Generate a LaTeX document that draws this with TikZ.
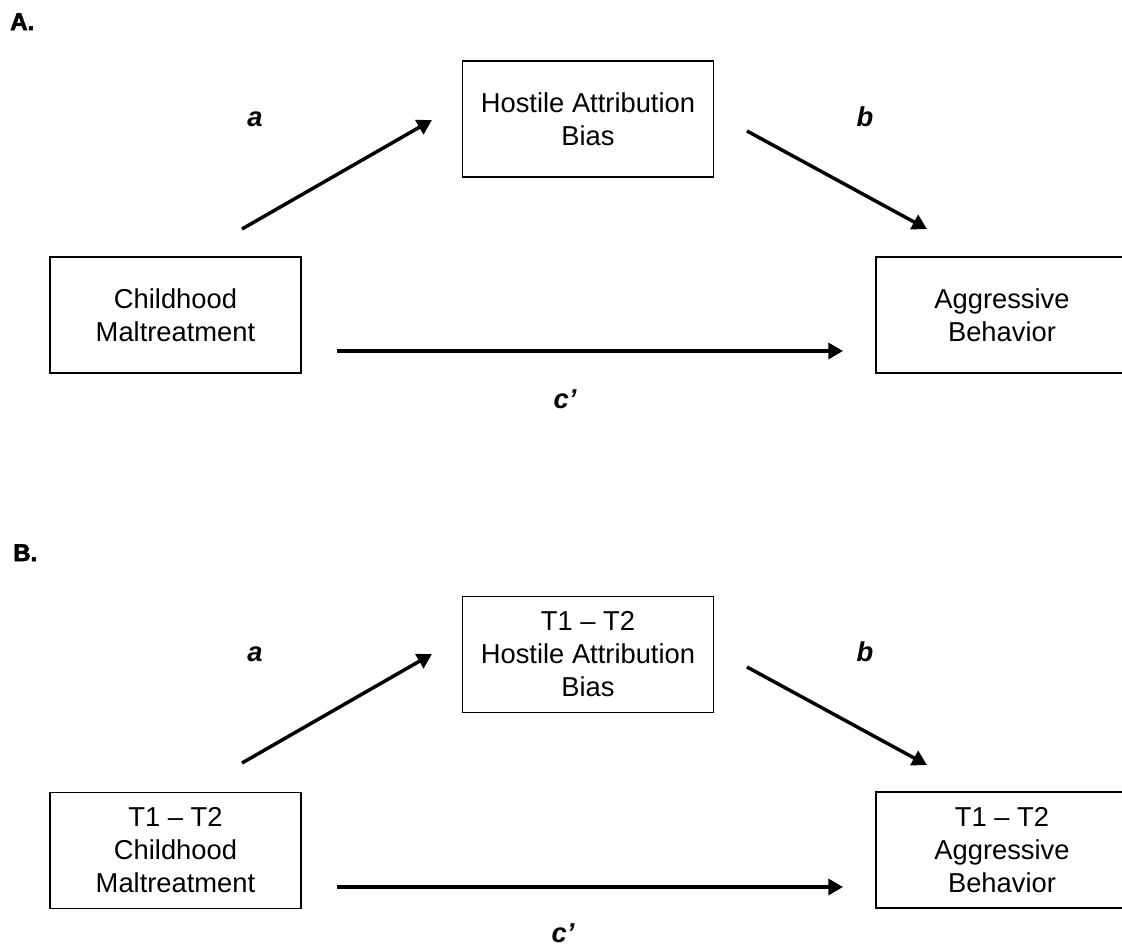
\documentclass[tikz,border=0pt]{standalone}
\usepackage{fontspec}
\setmainfont{Liberation Sans}
\newfontfamily\panelfont{Liberation Sans}[BoldFeatures={FakeBold=2.5}]
\usetikzlibrary{arrows.meta}
\begin{document}
\begin{tikzpicture}[x=0.75pt,y=-0.75pt,
  varbox/.style={draw=black, line width=1.2pt, rectangle, align=center, inner sep=0pt,
    minimum height=87pt, font=\fontsize{20.5pt}{24.75pt}\selectfont},
  pathlabel/.style={anchor=base, inner sep=0pt, font=\fontsize{20.5pt}{24pt}\selectfont\bfseries\itshape},
  panel/.style={anchor=base west, inner sep=0pt, font=\fontsize{18pt}{20pt}\panelfont\bfseries},
  effect/.style={line width=2.6pt, -{Triangle[length=11pt,width=12pt]}}]
\useasboundingbox (0,0) rectangle (1122,947);
\fill[white] (0,0) rectangle (1122,947);
% ---------- Panel A ----------
\node[panel] (labA) at (10,30) {A.};
\node[varbox, minimum width=188.25pt] (hA) at (588,119) {Hostile Attribution\\Bias};
\node[varbox, minimum width=188.25pt] (cA) at (175.5,315) {Childhood\\Maltreatment};
\node[varbox, minimum width=189pt] (gA) at (1002,315) {Aggressive\\Behavior};
\coordinate (aA1) at (242,229);
\coordinate (aA2) at (432,120);
\coordinate (bA1) at (747,131);
\coordinate (bA2) at (927,229);
\coordinate (cA1) at (337,351);
\coordinate (cA2) at (843,351);
\draw[effect] (aA1) -- (aA2);
\draw[effect] (bA1) -- (bA2);
\draw[effect] (cA1) -- (cA2);
\node[pathlabel] (laA) at (255,126) {a};
\node[pathlabel] (lbA) at (865,126) {b};
\node[pathlabel] (lcA) at (565,408) {c’};
% ---------- Panel B ----------
\node[panel] (labB) at (13,561) {B.};
\node[varbox, minimum width=188.25pt] (hB) at (588,654.5) {T1 – T2\\Hostile Attribution\\Bias};
\node[varbox, minimum width=188.25pt] (cB) at (175.5,850.5) {T1 – T2\\Childhood\\Maltreatment};
\node[varbox, minimum width=189pt] (gB) at (1002,850) {T1 – T2\\Aggressive\\Behavior};
\coordinate (aB1) at (242,763);
\coordinate (aB2) at (432,654);
\coordinate (bB1) at (747,667);
\coordinate (bB2) at (927,765);
\coordinate (cB1) at (337,887);
\coordinate (cB2) at (843,887);
\draw[effect] (aB1) -- (aB2);
\draw[effect] (bB1) -- (bB2);
\draw[effect] (cB1) -- (cB2);
\node[pathlabel] (laB) at (255,661) {a};
\node[pathlabel] (lbB) at (865,661) {b};
\node[pathlabel] (lcB) at (563,942) {c’};
\end{tikzpicture}
\end{document}
